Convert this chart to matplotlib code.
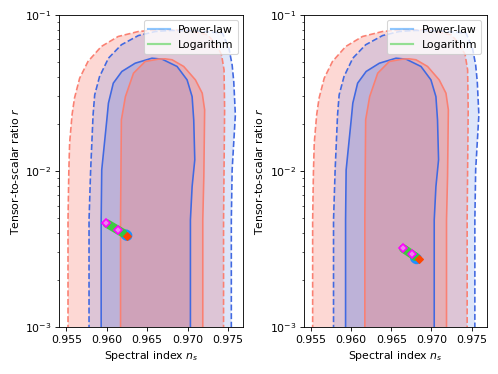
import numpy as np
import matplotlib
matplotlib.use("Agg")
import matplotlib.pyplot as plt
from matplotlib.lines import Line2D

# ---- contour boundaries (n_s, log10 r) ----
red2_ns = [0.9552, 0.9552, 0.9553, 0.9554, 0.9557, 0.9560, 0.95664, 0.95767, 0.95932, 0.9614,
           0.9639, 0.9665, 0.9685, 0.9703, 0.97245, 0.97357, 0.97419, 0.9745, 0.97457, 0.97444, 0.97444]
red2_lr = [-3.3, -2.314, -2.004, -1.821, -1.641, -1.534, -1.406, -1.299, -1.203, -1.139,
           -1.107, -1.095, -1.097, -1.103, -1.128, -1.192, -1.256, -1.353, -1.609, -2.314, -3.3]

blue2_ns = [0.9578, 0.9578, 0.9580, 0.9583, 0.9585, 0.9591, 0.9602, 0.9618, 0.9639, 0.9660,
            0.9680, 0.9712, 0.9743, 0.9751, 0.9755, 0.9757, 0.9759, 0.9755, 0.9754, 0.9754]
blue2_lr = [-3.3, -2.314, -1.994, -1.641, -1.513, -1.396, -1.278, -1.192, -1.133, -1.107,
            -1.100, -1.103, -1.117, -1.213, -1.321, -1.428, -1.641, -1.994, -2.314, -3.3]

blue1_ns = [0.9593, 0.9593, 0.95937, 0.9600, 0.9602, 0.9608, 0.96186, 0.96351, 0.96558, 0.96683,
            0.96869, 0.96993, 0.97055, 0.97075, 0.97088, 0.97055, 0.97034, 0.97034]
blue1_lr = [-3.3, -2.314, -1.994, -1.673, -1.566, -1.438, -1.363, -1.310, -1.278, -1.284,
            -1.331, -1.417, -1.524, -1.673, -1.929, -2.101, -2.314, -3.3]

red1_ns = [0.9617, 0.9617, 0.9618, 0.9623, 0.9633, 0.96475, 0.9664, 0.9672, 0.96807, 0.96951,
           0.97096, 0.9718, 0.9721, 0.9720, 0.97187, 0.97187]
red1_lr = [-3.3, -2.3, -1.673, -1.524, -1.374, -1.299, -1.284, -1.282, -1.288, -1.331,
           -1.417, -1.502, -1.609, -2.037, -2.314, -3.3]

# ---- model predictions (left panel, right panel) ----
log_ns = [[0.9600, 0.9620], [0.9665, 0.9680]]
log_r = [[0.00460, 0.00400], [0.00318, 0.00282]]
pow_ns = [[0.96235, 0.96250], [0.96800, 0.96815]]
pow_r = [[0.00390, 0.00385], [0.00276, 0.00273]]
mag_ns = [[0.95991, 0.96143], [0.96642, 0.96753]]
mag_r = [[0.00462, 0.00419], [0.00319, 0.00294]]
dia_ns = [0.96248, 0.96844]
dia_r = [0.00383, 0.00272]

RED = "salmon"
BLUE = "royalblue"

fig = plt.figure(figsize=(6.4, 4.8), dpi=77.95)
axes = [fig.add_axes([0.1185, 0.1257, 0.3695, 0.8343]),
        fig.add_axes([0.609, 0.1257, 0.367, 0.8343])]

def r_of(lr):
    return 10.0 ** np.asarray(lr)

for i, ax in enumerate(axes):
    ax.fill(red2_ns, r_of(red2_lr), color=RED, alpha=0.3, lw=0, zorder=1)
    ax.fill(blue2_ns, r_of(blue2_lr), color=BLUE, alpha=0.17, lw=0, zorder=1)
    ax.fill(blue1_ns, r_of(blue1_lr), color=BLUE, alpha=0.2, lw=0, zorder=1)
    ax.fill(red1_ns, r_of(red1_lr), color=RED, alpha=0.3, lw=0, zorder=1)
    ax.plot(red2_ns, r_of(red2_lr), color=RED, ls="--", lw=1.5, zorder=2)
    ax.plot(blue2_ns, r_of(blue2_lr), color=BLUE, ls="--", lw=1.5, zorder=2)
    ax.plot(blue1_ns, r_of(blue1_lr), color=BLUE, ls="-", lw=1.5, zorder=2)
    ax.plot(red1_ns, r_of(red1_lr), color=RED, ls="-", lw=1.5, zorder=2)

    ax.plot(pow_ns[i], pow_r[i], color="dodgerblue", lw=10, solid_capstyle="round", zorder=3)
    ax.plot(log_ns[i], log_r[i], color="limegreen", lw=8, solid_capstyle="round", alpha=0.9, zorder=4)
    ax.plot(mag_ns[i], mag_r[i], ls="none", marker="D", ms=5.5, color="magenta",
            mfc="violet", mec="magenta", mew=1.5, zorder=5)
    ax.plot([dia_ns[i]], [dia_r[i]], ls="none", marker="D", ms=5.5, color="orangered", zorder=5)

    ax.set_yscale("log")
    ax.set_xlim(0.9541, 0.9769)
    ax.set_ylim(1e-3, 1e-1)
    ax.set_xticks([0.955, 0.960, 0.965, 0.970, 0.975])
    ax.set_xticklabels(["0.955", "0.960", "0.965", "0.970", "0.975"])
    ax.set_xlabel("Spectral index $n_s$")
    ax.set_ylabel("Tensor-to-scalar ratio $r$")
    handles = [Line2D([0], [0], color="dodgerblue", lw=2, alpha=0.5),
               Line2D([0], [0], color="limegreen", lw=2, alpha=0.5)]
    ax.legend(handles, ["Power-law", "Logarithm"], loc="upper right")

fig.savefig("out.png", dpi=77.95)
